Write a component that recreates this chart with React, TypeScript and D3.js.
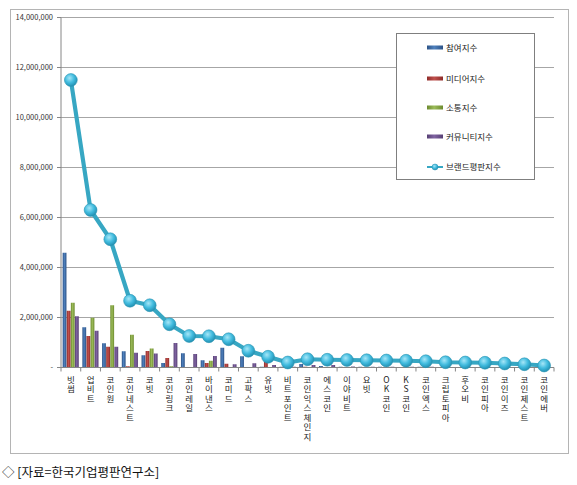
import React from 'react';
import * as d3 from 'd3';

const categories = [
  '빗썸', '업비트', '코인원', '코인네스트', '코빗', '코인링크', '코인레일', '바이낸스',
  '코미드', '고팍스', '유빗', '비트포인트', '코인익스체인지', '에스코인', '이야비트', '요빗',
  'OK코인', 'KS코인', '코인엑스', '크립토피아', '후오비', '코인피아', '코인이즈', '코인제스트', '코인에버',
];

const participation = [4590000, 1610000, 970000, 650000, 490000, 180000, 570000, 290000, 790000, 450000, 30000, 30000, 140000, 60000, 30000, 30000, 30000, 20000, 30000, 20000, 20000, 20000, 20000, 20000, 10000];
const media = [2270000, 1260000, 830000, 50000, 660000, 380000, 20000, 180000, 150000, 20000, 230000, 20000, 30000, 20000, 20000, 20000, 20000, 20000, 20000, 10000, 20000, 10000, 10000, 10000, 10000];
const communication = [2590000, 1990000, 2490000, 1310000, 760000, 50000, 20000, 270000, 20000, 20000, 10000, 10000, 10000, 10000, 10000, 10000, 10000, 10000, 10000, 10000, 10000, 10000, 10000, 10000, 10000];
const community = [2050000, 1470000, 830000, 590000, 560000, 980000, 540000, 460000, 130000, 170000, 100000, 30000, 100000, 100000, 40000, 30000, 30000, 30000, 30000, 20000, 20000, 20000, 20000, 20000, 10000];
const brand = [11500000, 6300000, 5130000, 2670000, 2490000, 1730000, 1260000, 1250000, 1130000, 670000, 430000, 200000, 330000, 310000, 300000, 290000, 280000, 270000, 250000, 210000, 200000, 190000, 160000, 130000, 80000];

const barSeries = [
  { name: '참여지수', values: participation, color: '#4F81BD', dark: '#2C5286' },
  { name: '미디어지수', values: media, color: '#C0504D', dark: '#8E2B28' },
  { name: '소통지수', values: communication, color: '#9BBB59', dark: '#6C8A2E' },
  { name: '커뮤니티지수', values: community, color: '#8064A2', dark: '#563F73' },
];
const lineName = '브랜드평판지수';
const yTicks = [0, 2000000, 4000000, 6000000, 8000000, 10000000, 12000000, 14000000];

const W = 577;
const H = 485;
const plot = { left: 61, right: 554, top: 17.5, bottom: 367.5 };

const App: React.FC = () => {
  const x = d3.scaleBand<string>().domain(categories).range([plot.left, plot.right]);
  const y = d3.scaleLinear().domain([0, 14000000]).range([plot.bottom, plot.top]);
  const inner = d3.scaleBand<number>()
    .domain(barSeries.map((_, i) => i))
    .range([0, x.bandwidth()])
    .paddingOuter(0.4);
  const fmt = d3.format(',');
  const cx = (i: number) => (x(categories[i]) as number) + x.bandwidth() / 2;
  const line = d3.line<number>()
    .x((_, i) => cx(i))
    .y(d => y(d));

  const font = '"Noto Sans CJK KR", "Noto Sans", sans-serif';
  const legendRows = [48, 79, 108, 137, 167];

  return (
    <svg width={W} height={H} style={{ position: 'absolute', left: 0, top: 0, background: '#fff' }}>
      <defs>
        {barSeries.map((s, i) => (
          <linearGradient key={i} id={`bar${i}`} x1="0" x2="1" y1="0" y2="0">
            <stop offset="0%" stopColor={s.dark} />
            <stop offset="45%" stopColor={s.color} />
            <stop offset="100%" stopColor={s.dark} />
          </linearGradient>
        ))}
        <radialGradient id="marker" cx="40%" cy="35%" r="65%">
          <stop offset="0%" stopColor="#A6E6F7" />
          <stop offset="55%" stopColor="#42BCDF" />
          <stop offset="100%" stopColor="#2391B3" />
        </radialGradient>
      </defs>

      <rect x={10.5} y={9.5} width={558} height={444} fill="#fff" stroke="#b4b4b4" />

      {yTicks.map(t => (
        <g key={t}>
          {t > 0 && <line x1={plot.left} x2={plot.right} y1={y(t)} y2={y(t)} stroke="#a6a6a6" strokeWidth={1} />}
          <line x1={plot.left - 4} x2={plot.left} y1={y(t)} y2={y(t)} stroke="#868686" />
          <text x={plot.left - 8} y={y(t)} dy="0.35em" textAnchor="end" fontSize={7.5} fill="#333" fontFamily={font}>
            {t === 0 ? '-' : fmt(t)}
          </text>
        </g>
      ))}

      <line x1={plot.left} x2={plot.left} y1={plot.top} y2={plot.bottom} stroke="#868686" />

      {barSeries.map((s, si) => (
        <g key={s.name}>
          {s.values.map((v, ci) => (
            <rect
              key={ci}
              x={(x(categories[ci]) as number) + (inner(si) as number)}
              y={y(v)}
              width={inner.bandwidth() - 0.3}
              height={plot.bottom - y(v)}
              fill={`url(#bar${si})`}
            />
          ))}
        </g>
      ))}

      <line x1={plot.left} x2={plot.right} y1={plot.bottom} y2={plot.bottom} stroke="#868686" />
      {categories.map(c => (
        <line key={c} x1={x(c) as number} x2={x(c) as number} y1={plot.bottom} y2={plot.bottom + 4} stroke="#868686" />
      ))}
      <line x1={plot.right} x2={plot.right} y1={plot.bottom} y2={plot.bottom + 4} stroke="#868686" />

      <path d={line(brand) || ''} fill="none" stroke="#37A7C3" strokeWidth={4.2} strokeLinejoin="round" />
      {brand.map((v, i) => (
        <circle key={i} cx={cx(i)} cy={y(v)} r={6.4} fill="url(#marker)" stroke="#2A93B2" strokeWidth={0.6} />
      ))}

      {categories.map((c, i) => (
        <g key={c}>
          {Array.from(c).map((ch, k) => (
            <text
              key={k}
              x={cx(i)}
              y={plot.bottom + 12.5 + k * 9.5}
              dy="0.35em"
              fontSize={8.5}
              fill="#222"
              fontFamily={font}
              textAnchor="middle"
            >
              {ch}
            </text>
          ))}
        </g>
      ))}

      <rect x={396.5} y={33.5} width={138} height={146} fill="#fff" stroke="#7f7f7f" />
      {barSeries.map((s, i) => (
        <g key={s.name}>
          <rect x={427} y={legendRows[i] - 2.5} width={16} height={4} fill={`url(#bar${i})`} />
          <text x={446} y={legendRows[i]} dy="0.35em" fontSize={8.5} fill="#222" fontFamily={font}>
            {s.name}
          </text>
        </g>
      ))}
      <line x1={427} x2={443} y1={legendRows[4]} y2={legendRows[4]} stroke="#37A7C3" strokeWidth={2} />
      <circle cx={435} cy={legendRows[4]} r={3} fill="url(#marker)" stroke="#2A93B2" strokeWidth={0.5} />
      <text x={446} y={legendRows[4]} dy="0.35em" fontSize={8.5} fill="#222" fontFamily={font}>
        {lineName}
      </text>

      <text x={2} y={477} fontSize={12.5} fill="#111" fontFamily={font}>
        ◇ [자료=한국기업평판연구소]
      </text>
    </svg>
  );
};

export default App;
